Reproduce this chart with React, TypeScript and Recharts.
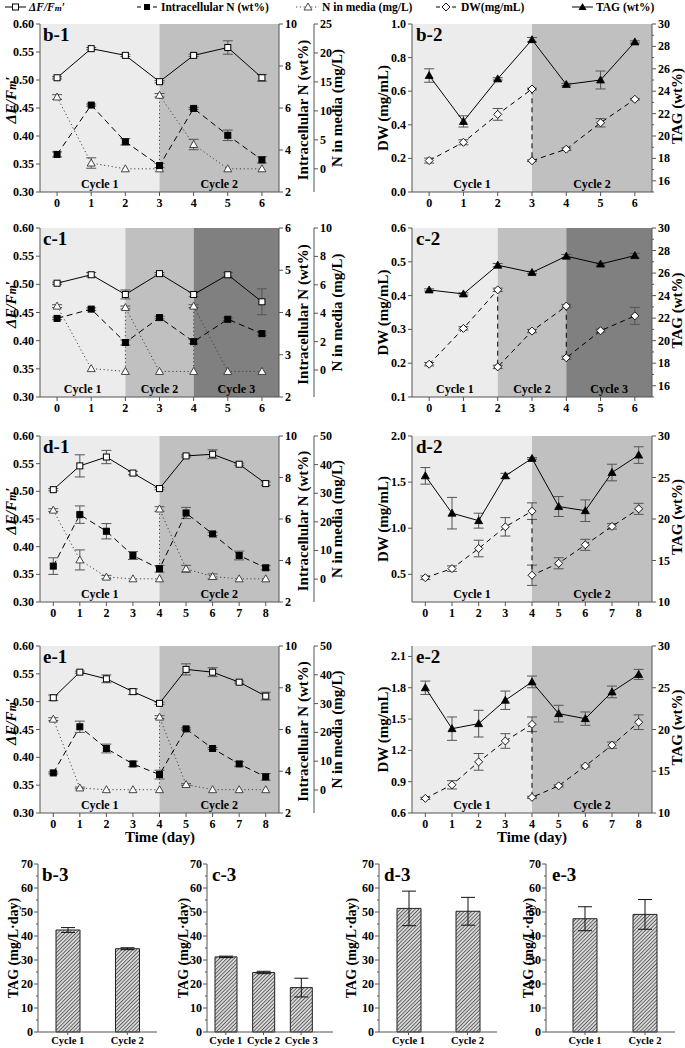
import React from 'react'
import { ComposedChart, Line, XAxis, YAxis, ReferenceArea, ErrorBar, BarChart, Bar } from 'recharts'

// ---------- data ----------
const days6 = [0, 1, 2, 3, 4, 5, 6]
const days8 = [0, 1, 2, 3, 4, 5, 6, 7, 8]

// b-1
const b1Fv = [0.504, 0.556, 0.544, 0.497, 0.544, 0.558, 0.504]
const b1FvErr = [0.002, 0.002, 0.002, 0.002, 0.002, 0.012, 0.006]
const b1IntN = [3.79, 6.14, 4.39, 3.26, 5.98, 4.7, 3.53]
const b1IntNErr = [0.12, 0.05, 0.15, 0.1, 0.05, 0.25, 0.15]
const b1MediaDays = [0, 1, 2, 3, 3, 4, 5, 6]
const b1Media = [12.4, 1.0, 0, 0, 12.7, 4.2, 0, 0]
const b1MediaErr = [0.4, 0.9, 0, 0, 0.3, 0.9, 0, 0]
// b-2
const b2DwDays = [0, 1, 2, 3, 3, 4, 5, 6]
const b2Dw = [0.187, 0.296, 0.462, 0.613, 0.186, 0.255, 0.412, 0.552]
const b2DwErr = [0.015, 0.015, 0.035, 0.005, 0.005, 0.008, 0.025, 0.005]
const b2Tag = [25.4, 21.3, 25.1, 28.6, 24.6, 25.0, 28.4]
const b2TagErr = [0.6, 0.5, 0.1, 0.2, 0.1, 0.8, 0.1]
// c-1
const c1Fv = [0.502, 0.517, 0.482, 0.519, 0.482, 0.517, 0.469]
const c1FvErr = [0.002, 0.004, 0.008, 0.002, 0.004, 0.004, 0.023]
const c1IntN = [3.86, 4.08, 3.29, 3.88, 3.31, 3.84, 3.5]
const c1IntNErr = [0.03, 0.03, 0.06, 0.03, 0.05, 0.03, 0.04]
const c1MediaDays = [0, 1, 2, 2, 3, 4, 4, 5, 6]
const c1Media = [4.5, 0.1, -0.1, 4.4, -0.1, -0.1, 4.5, -0.1, -0.1]
const c1MediaErr = [0.1, 0, 0, 0.1, 0, 0, 0.1, 0, 0]
// c-2
const c2DwDays = [0, 1, 2, 2, 3, 4, 4, 5, 6]
const c2Dw = [0.197, 0.303, 0.417, 0.189, 0.295, 0.369, 0.216, 0.296, 0.34]
const c2DwErr = [0.005, 0.005, 0.005, 0.005, 0.005, 0.005, 0.005, 0.005, 0.025]
const c2Tag = [24.5, 24.15, 26.7, 26.05, 27.5, 26.8, 27.55]
const c2TagErr = [0.1, 0.1, 0.15, 0.1, 0.15, 0.1, 0.2]
// d-1
const d1Fv = [0.503, 0.546, 0.562, 0.533, 0.505, 0.564, 0.567, 0.549, 0.514]
const d1FvErr = [0.002, 0.02, 0.012, 0.003, 0.002, 0.002, 0.008, 0.002, 0.003]
const d1IntN = [3.73, 6.21, 5.41, 4.24, 3.6, 6.29, 5.28, 4.24, 3.65]
const d1IntNErr = [0.4, 0.42, 0.37, 0.19, 0.16, 0.27, 0.08, 0.21, 0.1]
const d1MediaDays = [0, 1, 2, 3, 4, 4, 5, 6, 7, 8]
const d1Media = [24.1, 6.7, 0.7, 0.1, 0.1, 24.5, 3.6, 0.9, 0.1, 0.1]
const d1MediaErr = [0.5, 3.5, 0.6, 0, 0, 0.8, 1.2, 0.9, 0, 0]
// d-2
const d2DwDays = [0, 1, 2, 3, 4, 4, 5, 6, 7, 8]
const d2Dw = [0.463, 0.562, 0.78, 1.015, 1.185, 0.49, 0.62, 0.82, 1.02, 1.21]
const d2DwErr = [0.02, 0.03, 0.09, 0.1, 0.09, 0.11, 0.06, 0.06, 0.03, 0.06]
const d2Tag = [25.2, 20.7, 19.8, 25.2, 27.3, 21.5, 21.0, 25.6, 27.7]
const d2TagErr = [1.0, 1.9, 0.9, 0.3, 0.1, 1.2, 1.3, 1.0, 1.0]
// e-1
const e1Fv = [0.507, 0.553, 0.541, 0.518, 0.497, 0.558, 0.553, 0.535, 0.51]
const e1FvErr = [0.005, 0.002, 0.007, 0.005, 0.002, 0.01, 0.008, 0.002, 0.007]
const e1IntN = [3.92, 6.13, 5.09, 4.35, 3.84, 6.03, 5.09, 4.35, 3.73]
const e1IntNErr = [0.05, 0.27, 0.21, 0.13, 0.21, 0.05, 0.05, 0.11, 0.16]
const e1MediaDays = [0, 1, 2, 3, 4, 4, 5, 6, 7, 8]
const e1Media = [24.6, 0.7, 0.1, 0.1, 0.1, 25.3, 1.9, 0.1, 0.1, 0.1]
const e1MediaErr = [0.5, 0.3, 0, 0, 0, 0.5, 0.3, 0, 0, 0]
// e-2
const e2DwDays = [0, 1, 2, 3, 4, 4, 5, 6, 7, 8]
const e2Dw = [0.74, 0.87, 1.09, 1.29, 1.45, 0.75, 0.86, 1.05, 1.25, 1.47]
const e2DwErr = [0.01, 0.04, 0.08, 0.07, 0.07, 0.01, 0.01, 0.01, 0.03, 0.07]
const e2Tag = [25.0, 20.1, 20.7, 23.5, 25.7, 21.9, 21.3, 24.5, 26.6]
const e2TagErr = [0.8, 1.4, 1.6, 1.1, 0.7, 1.0, 0.8, 0.7, 0.6]

// cycle boundaries (days) and names
const cycles2 = ['Cycle 1', 'Cycle 2']
const cycles3 = ['Cycle 1', 'Cycle 2', 'Cycle 3']
const bEdges = [-0.5, 3, 6.5]
const cEdges = [-0.5, 2, 4, 6.5]
const deEdges = [-0.5, 4, 8.5]

// bar panels: TAG productivity (mg/L·day)
const b3Tag = [42.5, 34.7]
const b3Err = [1.0, 0.4]
const c3Tag = [31.3, 24.8, 18.5]
const c3Err = [0.3, 0.5, 3.9]
const d3Tag = [51.5, 50.3]
const d3Err = [7.2, 5.8]
const e3Tag = [47.2, 49.0]
const e3Err = [5.0, 6.2]

// ---------- helpers ----------
const FONT = "'Liberation Serif', 'Times New Roman', serif"
const AXIS = '#555'
const ERR = '#555'
const SHADES = ['#ececec', '#c0c0c0', '#808080']
const tickStyle = { fontFamily: FONT, fontWeight: 700, fontSize: 12, fill: '#000' }

type P = { x: number; y: number; e: number }
const pts = (xs: number[], ys: number[], es: number[]): P[] =>
  xs.map((x, i) => ({ x, y: ys[i], e: es[i] }))

const steps = (a: number, b: number, s: number) => {
  const out: number[] = []
  for (let i = 0; a + i * s <= b + 1e-9; i++) out.push(+(a + i * s).toFixed(4))
  return out
}

// tick with label; minor ticks get a short mark and no label
function yTick(side: 'left' | 'right', fmt: (v: number) => string, isMajor: (v: number) => boolean = () => true, gap = 6) {
  return (props: any) => {
    const { x, y, payload } = props
    const v = payload.value
    const major = isMajor(v)
    const ax = side === 'left' ? x + gap : x - gap
    const len = major ? 4 : 2
    return (
      <g>
        <line x1={ax} x2={side === 'left' ? ax - len : ax + len} y1={y} y2={y} stroke={AXIS} />
        {major && (
          <text x={x} y={y} dy={4} textAnchor={side === 'left' ? 'end' : 'start'} style={tickStyle}>
            {fmt(v)}
          </text>
        )}
      </g>
    )
  }
}

const dotOpenSquare = (p: any) => (
  <rect key={p.index} x={p.cx - 3} y={p.cy - 3} width={6} height={6} fill="#fff" stroke="#000" strokeWidth={1} />
)
const dotFilledSquare = (p: any) => (
  <rect key={p.index} x={p.cx - 3} y={p.cy - 3} width={6} height={6} fill="#000" stroke="#000" strokeWidth={1} />
)
const dotOpenTriangle = (p: any) => (
  <path key={p.index} d={`M${p.cx},${p.cy - 4}L${p.cx + 4},${p.cy + 3}L${p.cx - 4},${p.cy + 3}Z`} fill="#fff" stroke="#333" strokeWidth={0.9} />
)
const dotFilledTriangle = (p: any) => (
  <path key={p.index} d={`M${p.cx},${p.cy - 4}L${p.cx + 4},${p.cy + 3}L${p.cx - 4},${p.cy + 3}Z`} fill="#000" stroke="#000" strokeWidth={0.8} />
)
const dotOpenDiamond = (p: any) => (
  <path key={p.index} d={`M${p.cx},${p.cy - 4}L${p.cx + 4},${p.cy}L${p.cx},${p.cy + 4}L${p.cx - 4},${p.cy}Z`} fill="#fff" stroke="#000" strokeWidth={0.9} />
)

const cycleLabel = (value: string) => ({
  value,
  position: 'insideBottom' as const,
  offset: 4,
  fill: '#000',
  fontSize: 12,
  fontWeight: 700,
  fontFamily: FONT,
})

function shading(edges: number[], names: string[], yAxisId: string) {
  return names.map((n, i) => (
    <ReferenceArea
      key={n}
      yAxisId={yAxisId}
      x1={edges[i]}
      x2={edges[i + 1]}
      fill={SHADES[i]}
      fillOpacity={1}
      stroke="none"
      label={cycleLabel(n)}
    />
  ))
}

// ---------- panels ----------
type LeftProps = {
  top: number; h: number; days: number[]; edges: number[]; names: string[]
  fv: P[]; intN: P[]; media: P[]
  nDomain: [number, number]; nTicks: number[]
  mDomain: [number, number]; mTicks: number[]
}

function LeftPanel({ top, h, days, edges, names, fv, intN, media, nDomain, nTicks, mDomain, mTicks }: LeftProps) {
  const xMax = days[days.length - 1]
  return (
    <div style={{ position: 'absolute', left: 0, top: top - 10 }}>
      <ComposedChart width={345} height={h + 30} margin={{ top: 10, right: 0, bottom: 0, left: 0 }}>
        {shading(edges, names, 'l')}
        <XAxis type="number" dataKey="x" domain={[-0.5, xMax + 0.5]} ticks={days} interval={0}
          tick={tickStyle} tickSize={4} tickMargin={2} stroke={AXIS} height={20} allowDataOverflow />
        <YAxis yAxisId="l" type="number" domain={[0.3, 0.6]} ticks={steps(0.3, 0.6, 0.05)} interval={0}
          tick={yTick('left', v => v.toFixed(2))} tickLine={false} tickSize={4} tickMargin={2}
          width={40} stroke={AXIS} allowDataOverflow />
        {/* r1 sits next to the plot, r2 is the outer axis */}
        <YAxis yAxisId="r1" orientation="right" type="number" domain={nDomain} ticks={nTicks} interval={0}
          tick={yTick('right', v => String(v))} tickLine={false} tickSize={4} tickMargin={2}
          width={35} stroke={AXIS} allowDataOverflow />
        <YAxis yAxisId="r2" orientation="right" type="number" domain={mDomain} ticks={mTicks} interval={0}
          tick={yTick('right', v => String(v))} tickLine={false} tickSize={4} tickMargin={2}
          width={31} stroke={AXIS} allowDataOverflow />
        <Line yAxisId="r2" data={media} dataKey="y" stroke="#444" strokeWidth={1} strokeDasharray="1.2 2.6"
          dot={dotOpenTriangle} activeDot={false} isAnimationActive={false}>
          <ErrorBar dataKey="e" width={5} stroke={ERR} strokeWidth={1} direction="y" />
        </Line>
        <Line yAxisId="r1" data={intN} dataKey="y" stroke="#000" strokeWidth={1} strokeDasharray="6 4"
          dot={dotFilledSquare} activeDot={false} isAnimationActive={false}>
          <ErrorBar dataKey="e" width={5} stroke={ERR} strokeWidth={1} direction="y" />
        </Line>
        <Line yAxisId="l" data={fv} dataKey="y" stroke="#000" strokeWidth={1}
          dot={dotOpenSquare} activeDot={false} isAnimationActive={false}>
          <ErrorBar dataKey="e" width={5} stroke={ERR} strokeWidth={1} direction="y" />
        </Line>
      </ComposedChart>
    </div>
  )
}

type RightProps = {
  top: number; h: number; days: number[]; edges: number[]; names: string[]
  dw: P[]; tag: P[]
  dDomain: [number, number]; dTicks: number[]; dFmt: (v: number) => string
  tDomain: [number, number]; tTicks: number[]; tMajor: (v: number) => boolean
}

function RightPanel({ top, h, days, edges, names, dw, tag, dDomain, dTicks, dFmt, tDomain, tTicks, tMajor }: RightProps) {
  const xMax = days[days.length - 1]
  return (
    <div style={{ position: 'absolute', left: 345, top: top - 10 }}>
      <ComposedChart width={340} height={h + 30} margin={{ top: 10, right: 0, bottom: 0, left: 0 }}>
        {shading(edges, names, 'd')}
        <XAxis type="number" dataKey="x" domain={[-0.5, xMax + 0.5]} ticks={days} interval={0}
          tick={tickStyle} tickSize={4} tickMargin={2} stroke={AXIS} height={20} allowDataOverflow />
        <YAxis yAxisId="d" type="number" domain={dDomain} ticks={dTicks} interval={0}
          tick={yTick('left', dFmt)} tickLine={false} tickSize={4} tickMargin={2}
          width={67} stroke={AXIS} allowDataOverflow />
        <YAxis yAxisId="t" orientation="right" type="number" domain={tDomain} ticks={tTicks} interval={0}
          tick={yTick('right', v => String(v), tMajor)} tickLine={false} tickSize={4} tickMargin={2}
          width={33} stroke={AXIS} allowDataOverflow />
        <Line yAxisId="d" data={dw} dataKey="y" stroke="#000" strokeWidth={1} strokeDasharray="5 4"
          dot={dotOpenDiamond} activeDot={false} isAnimationActive={false}>
          <ErrorBar dataKey="e" width={5} stroke={ERR} strokeWidth={1} direction="y" />
        </Line>
        <Line yAxisId="t" data={tag} dataKey="y" stroke="#000" strokeWidth={1}
          dot={dotFilledTriangle} activeDot={false} isAnimationActive={false}>
          <ErrorBar dataKey="e" width={5} stroke={ERR} strokeWidth={1} direction="y" />
        </Line>
      </ComposedChart>
    </div>
  )
}

function BarPanel({ id, left, width, names, values, errs, padL, padR, barSize }: {
  id: string; left: number; width: number; names: string[]; values: number[]; errs: number[]
  padL: number; padR: number; barSize: number
}) {
  const data = names.map((n, i) => ({ name: n, v: values[i], e: errs[i] }))
  return (
    <div style={{ position: 'absolute', left, top: 854 }}>
      <BarChart width={width} height={194} data={data} margin={{ top: 10, right: 0, bottom: 0, left: 0 }}>
        <defs>
          <pattern id={id} patternUnits="userSpaceOnUse" width={2.6} height={2.6} patternTransform="rotate(45)">
            <rect width={2.6} height={2.6} fill="#d8d8d8" />
            <line x1={0} y1={0} x2={0} y2={2.6} stroke="#222" strokeWidth={1.2} />
          </pattern>
        </defs>
        <XAxis dataKey="name" padding={{ left: padL, right: padR }} interval={0}
          tick={{ ...tickStyle, fontSize: 10.5 }} tickSize={3} tickMargin={2} stroke={AXIS} height={16} />
        <YAxis type="number" domain={[0, 70]} ticks={steps(0, 70, 5)} interval={0}
          tick={yTick('left', v => String(v), v => v % 10 === 0, 5)} tickLine={false} tickSize={4} tickMargin={1}
          width={38} stroke={AXIS} />
        <Bar dataKey="v" barSize={barSize} fill={`url(#${id})`} stroke="#222" strokeWidth={1} isAnimationActive={false}>
          <ErrorBar dataKey="e" width={7} stroke="#111" strokeWidth={1} direction="y" />
        </Bar>
      </BarChart>
    </div>
  )
}

// ---------- texts drawn over the charts ----------
const titleStyle = { fontFamily: FONT, fontWeight: 700, fontSize: 15, fill: '#000' }

function VText({ x, y, children, italic, size }: { x: number; y: number; children: React.ReactNode; italic?: boolean; size?: number }) {
  return (
    <text x={x} y={y} dy="0.35em" textAnchor="middle" transform={`rotate(-90 ${x} ${y})`}
      style={{ ...titleStyle, fontSize: size ?? 15, fontStyle: italic ? 'italic' : 'normal' }}>
      {children}
    </text>
  )
}

const FvTitle = () => (
  <>
    ΔF/F<tspan fontSize="0.78em">m</tspan>′
  </>
)

function Overlay() {
  const rowsL = [
    { top: 24, h: 168, lab: 'b-1' },
    { top: 228, h: 169, lab: 'c-1' },
    { top: 436, h: 166, lab: 'd-1' },
    { top: 646, h: 167, lab: 'e-1' },
  ]
  const rowsR = ['b-2', 'c-2', 'd-2', 'e-2']
  const lg = { fontFamily: FONT, fontWeight: 700, fontSize: 11.5, fill: '#000' }
  const ly = 7
  return (
    <svg width={685} height={1048} style={{ position: 'absolute', left: 0, top: 0, pointerEvents: 'none' }}>
      {/* legend */}
      <line x1={5} x2={26} y1={ly} y2={ly} stroke="#000" />
      <rect x={12.5} y={ly - 3} width={6} height={6} fill="#fff" stroke="#000" />
      <text x={29} y={ly + 4} style={{ ...lg, fontStyle: 'italic' }}><FvTitle /></text>

      <line x1={137} x2={157} y1={ly} y2={ly} stroke="#000" strokeDasharray="4 4" />
      <rect x={144} y={ly - 3} width={6} height={6} fill="#000" />
      <text x={161} y={ly + 4} style={lg}>Intracellular N (wt%)</text>

      <line x1={296} x2={319} y1={ly} y2={ly} stroke="#444" strokeDasharray="1.2 2.6" />
      <path d={`M308,${ly - 4}L312,${ly + 3}L304,${ly + 3}Z`} fill="#fff" stroke="#333" strokeWidth={0.9} />
      <text x={322} y={ly + 4} style={lg}>N in media (mg/L)</text>

      <line x1={436} x2={456} y1={ly} y2={ly} stroke="#000" strokeDasharray="4 4" />
      <path d={`M446,${ly - 4}L450,${ly}L446,${ly + 4}L442,${ly}Z`} fill="#fff" stroke="#000" strokeWidth={0.9} />
      <text x={461} y={ly + 4} style={lg}>DW(mg/mL)</text>

      <line x1={572} x2={593} y1={ly} y2={ly} stroke="#000" />
      <path d={`M582.5,${ly - 4}L586.5,${ly + 3}L578.5,${ly + 3}Z`} fill="#000" />
      <text x={596} y={ly + 4} style={lg}>TAG (wt%)</text>

      {rowsL.map((r, i) => (
        <g key={r.lab}>
          <text x={43} y={r.top + 17} style={{ ...titleStyle, fontSize: 19 }}>{r.lab}</text>
          <text x={416} y={r.top + 17} style={{ ...titleStyle, fontSize: 19 }}>{rowsR[i]}</text>
          <VText x={11} y={r.top + r.h / 2 - 8} italic><FvTitle /></VText>
          <VText x={303} y={r.top + r.h / 2 + 2}>Intracellular N (wt%)</VText>
          <VText x={337} y={r.top + r.h / 2}>N in media (mg/L)</VText>
          <VText x={383} y={r.top + r.h / 2}>DW (mg/mL)</VText>
          <VText x={677} y={r.top + r.h / 2 - 2}>TAG (wt%)</VText>
        </g>
      ))}

      <text x={160} y={842} textAnchor="middle" style={titleStyle}>Time (day)</text>
      <text x={532} y={842} textAnchor="middle" style={titleStyle}>Time (day)</text>

      {[
        { x: 42, ax: 13, lab: 'b-3' },
        { x: 212, ax: 183, lab: 'c-3' },
        { x: 384, ax: 351, lab: 'd-3' },
        { x: 552, ax: 528, lab: 'e-3' },
      ].map(b => (
        <g key={b.lab}>
          <text x={b.x} y={881} style={{ ...titleStyle, fontSize: 19 }}>{b.lab}</text>
          <VText x={b.ax} y={948} size={14}>TAG (mg/L·day)</VText>
        </g>
      ))}
    </svg>
  )
}

export default function App() {
  return (
    <div style={{ position: 'absolute', left: 0, top: 0, width: 685, height: 1048, background: '#fff', overflow: 'hidden' }}>
      <LeftPanel top={24} h={168} days={days6} edges={bEdges} names={cycles2}
        fv={pts(days6, b1Fv, b1FvErr)} intN={pts(days6, b1IntN, b1IntNErr)}
        media={pts(b1MediaDays, b1Media, b1MediaErr)}
        nDomain={[2, 10]} nTicks={steps(2, 10, 2)} mDomain={[-4, 25]} mTicks={steps(0, 25, 5)} />
      <RightPanel top={24} h={168} days={days6} edges={bEdges} names={cycles2}
        dw={pts(b2DwDays, b2Dw, b2DwErr)} tag={pts(days6, b2Tag, b2TagErr)}
        dDomain={[0, 1]} dTicks={steps(0, 1, 0.2)} dFmt={v => v.toFixed(1)}
        tDomain={[15, 30]} tTicks={steps(15, 30, 1)} tMajor={v => v % 2 === 0} />

      <LeftPanel top={228} h={169} days={days6} edges={cEdges} names={cycles3}
        fv={pts(days6, c1Fv, c1FvErr)} intN={pts(days6, c1IntN, c1IntNErr)}
        media={pts(c1MediaDays, c1Media, c1MediaErr)}
        nDomain={[2, 6]} nTicks={steps(2, 6, 1)} mDomain={[-1.9, 10]} mTicks={steps(0, 10, 2)} />
      <RightPanel top={228} h={169} days={days6} edges={cEdges} names={cycles3}
        dw={pts(c2DwDays, c2Dw, c2DwErr)} tag={pts(days6, c2Tag, c2TagErr)}
        dDomain={[0.1, 0.6]} dTicks={steps(0.1, 0.6, 0.1)} dFmt={v => v.toFixed(1)}
        tDomain={[15, 30]} tTicks={steps(15, 30, 1)} tMajor={v => v % 2 === 0} />

      <LeftPanel top={436} h={166} days={days8} edges={deEdges} names={cycles2}
        fv={pts(days8, d1Fv, d1FvErr)} intN={pts(days8, d1IntN, d1IntNErr)}
        media={pts(d1MediaDays, d1Media, d1MediaErr)}
        nDomain={[2, 10]} nTicks={steps(2, 10, 2)} mDomain={[-8, 50]} mTicks={steps(0, 50, 10)} />
      <RightPanel top={436} h={166} days={days8} edges={deEdges} names={cycles2}
        dw={pts(d2DwDays, d2Dw, d2DwErr)} tag={pts(days8, d2Tag, d2TagErr)}
        dDomain={[0.2, 2.0]} dTicks={steps(0.5, 2.0, 0.5)} dFmt={v => v.toFixed(1)}
        tDomain={[10, 30]} tTicks={steps(10, 30, 5)} tMajor={() => true} />

      <LeftPanel top={646} h={167} days={days8} edges={deEdges} names={cycles2}
        fv={pts(days8, e1Fv, e1FvErr)} intN={pts(days8, e1IntN, e1IntNErr)}
        media={pts(e1MediaDays, e1Media, e1MediaErr)}
        nDomain={[2, 10]} nTicks={steps(2, 10, 2)} mDomain={[-8, 50]} mTicks={steps(0, 50, 10)} />
      <RightPanel top={646} h={167} days={days8} edges={deEdges} names={cycles2}
        dw={pts(e2DwDays, e2Dw, e2DwErr)} tag={pts(days8, e2Tag, e2TagErr)}
        dDomain={[0.6, 2.2]} dTicks={steps(0.6, 2.1, 0.3)} dFmt={v => v.toFixed(1)}
        tDomain={[10, 30]} tTicks={steps(10, 30, 5)} tMajor={() => true} />

      <BarPanel id="hatchB" left={0} width={157} names={cycles2} values={b3Tag} errs={b3Err} padL={0} padR={0} barSize={24} />
      <BarPanel id="hatchC" left={169} width={164} names={cycles3} values={c3Tag} errs={c3Err} padL={0} padR={13} barSize={22} />
      <BarPanel id="hatchD" left={341} width={156} names={cycles2} values={d3Tag} errs={d3Err} padL={0} padR={0} barSize={24} />
      <BarPanel id="hatchE" left={508} width={167} names={cycles2} values={e3Tag} errs={e3Err} padL={9} padR={0} barSize={24} />

      <Overlay />
    </div>
  )
}
